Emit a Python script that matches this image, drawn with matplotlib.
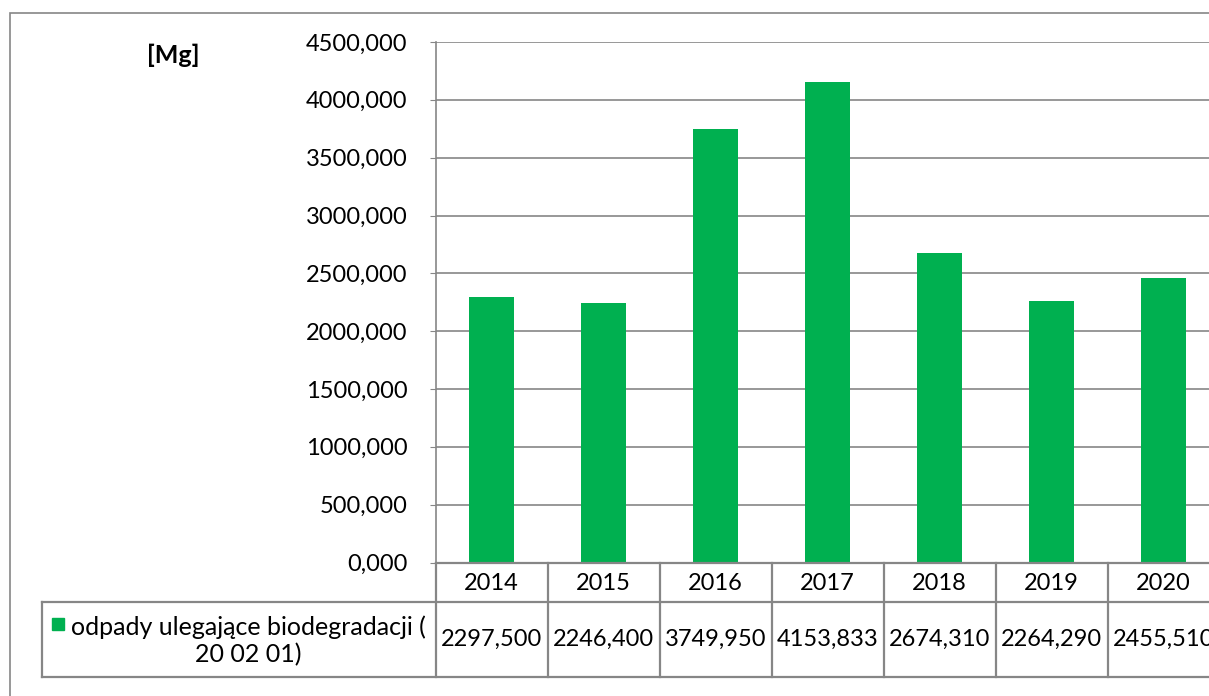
import matplotlib.pyplot as plt
from matplotlib.patches import Rectangle
from matplotlib.lines import Line2D
from matplotlib.transforms import blended_transform_factory

# dane
years = ['2014', '2015', '2016', '2017', '2018', '2019', '2020']
values = [2297.500, 2246.400, 3749.950, 4153.833, 2674.310, 2264.290, 2455.510]
series_name = 'odpady ulegające biodegradacji (\n20 02 01)'
y_ticks = [0, 500, 1000, 1500, 2000, 2500, 3000, 3500, 4000, 4500]
unit_label = '[Mg]'

bar_color = '#00B050'
line_color = '#868686'

plt.rcParams['font.family'] = ['Lato', 'DejaVu Sans']

W, H = 1209, 696
fig = plt.figure(figsize=(W / 100, H / 100), dpi=100)


def fx(px):
    return px / W


def fy(py):
    return 1 - py / H


# obszar wykresu (w pikselach)
col_w = 112
left, top, bottom = 435.5, 42, 562.5
right = left + col_w * len(years)
ax = fig.add_axes([fx(left), fy(bottom), fx(right) - fx(left), fy(top) - fy(bottom)])

x = range(len(years))
ax.bar(x, values, width=0.40, color=bar_color, zorder=3)

ax.set_xlim(-0.5, len(years) - 0.5)
ax.set_ylim(0, 4500)
ax.set_yticks(y_ticks)
ax.set_yticklabels([f'{v:.3f}'.replace('.', ',') for v in y_ticks], fontsize=17)
ax.set_xticks([])
ax.tick_params(axis='y', length=4, width=0.8, color=line_color, pad=16)
ax.grid(axis='y', color=line_color, linewidth=1.2, zorder=0)
for s in ['top', 'right', 'bottom']:
    ax.spines[s].set_visible(False)
ax.spines['left'].set_color(line_color)
ax.spines['left'].set_linewidth(1.2)

# tabela danych pod wykresem
tr = blended_transform_factory(ax.transData, fig.transFigure)
row1_top, row1_bot, row2_bot = bottom, 602, 677
lw = 1.6

# linie poziome
fig.add_artist(Line2D([fx(left), 1.2], [fy(row1_top)] * 2, color=line_color, lw=lw))
fig.add_artist(Line2D([fx(42), 1.2], [fy(row1_bot)] * 2, color=line_color, lw=lw))
fig.add_artist(Line2D([fx(42), 1.2], [fy(row2_bot)] * 2, color=line_color, lw=lw))
# linie pionowe
fig.add_artist(Line2D([fx(42), fx(42)], [fy(row1_bot), fy(row2_bot)], color=line_color, lw=lw))
for i in range(len(years) + 1):
    ax.add_line(Line2D([i - 0.5, i - 0.5], [fy(row1_top), fy(row2_bot)], color=line_color,
                       lw=lw, transform=tr, clip_on=False))

for i, (yr, v) in enumerate(zip(years, values)):
    ax.text(i, fy(583), yr, transform=tr, ha='center', va='center', fontsize=17)
    ax.text(i, fy(639), f'{v:.3f}'.replace('.', ','), transform=tr, ha='center', va='center',
            fontsize=17)

# legenda w tabeli
fig.add_artist(Rectangle((fx(52), fy(630)), fx(12), fy(618) - fy(630), color=bar_color,
                         transform=fig.transFigure))
fig.text(fx(248), fy(641), series_name, ha='center', va='center', fontsize=18,
         multialignment='center', linespacing=1.2)

# jednostka
fig.text(fx(173), fy(55), unit_label, ha='center', va='center', fontsize=18, fontweight='bold')

# ramka wykresu
fig.add_artist(Rectangle((fx(10), fy(720)), 1.2, fy(13) - fy(720), fill=False,
                         edgecolor=line_color, lw=1.2, transform=fig.transFigure))

plt.savefig('out.png', dpi=100)
